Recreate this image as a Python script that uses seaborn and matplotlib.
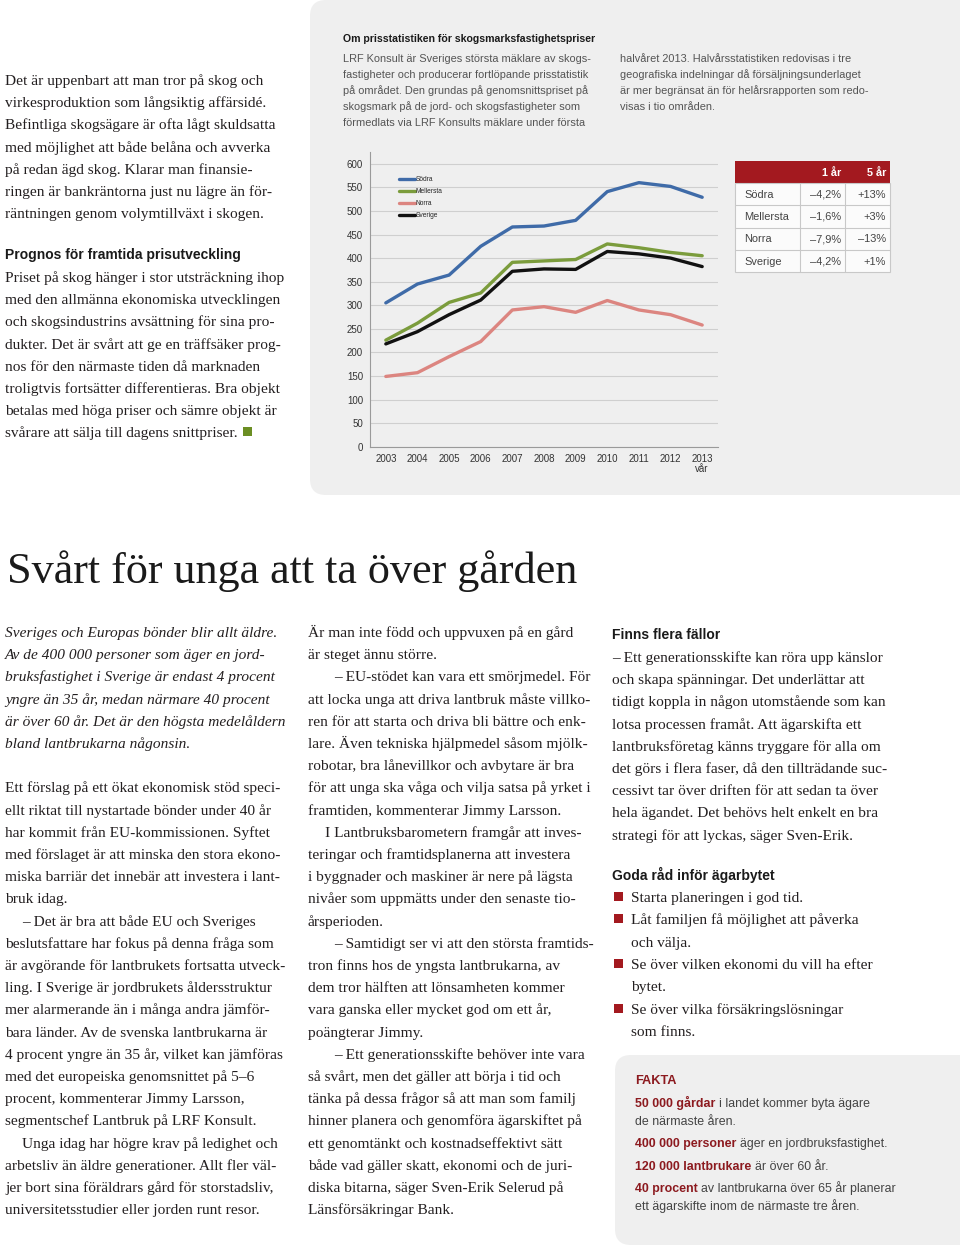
import matplotlib
matplotlib.use('Agg')
import matplotlib.pyplot as plt
from matplotlib.patches import FancyBboxPatch, Rectangle
import pandas as pd
import seaborn as sns

# Chart data: price per hectare of forest land
years = ['2003', '2004', '2005', '2006', '2007', '2008', '2009', '2010', '2011', '2012', '2013\nvår']
sodra = [305, 345, 364, 425, 466, 468, 480, 541, 560, 552, 529]
mellersta = [226, 262, 306, 326, 391, 394, 397, 430, 422, 412, 405]
norra = [149, 157, 191, 223, 290, 297, 285, 310, 290, 280, 258]
sverige = [218, 244, 280, 311, 372, 377, 376, 414, 409, 400, 382]
regions = ['Södra', 'Mellersta', 'Norra', 'Sverige']
region_colors = ['#3f6ba8', '#7b9c3c', '#dc8580', '#111111']
y_ticks = list(range(0, 601, 50))

# Change table
table_regions = ['Södra', 'Mellersta', 'Norra', 'Sverige']
change_1yr = ['–4,2%', '–1,6%', '–7,9%', '–4,2%']
change_5yr = ['+13%', '+3%', '–13%', '+1%']
table_header = ['', '1 år', '5 år']

SERIF = 'Liberation Serif'
SANS = 'Liberation Sans'
INK = '#231f20'
RED = '#a3191f'

sns.set_theme(style='white')
plt.rcParams['font.family'] = [SANS, 'DejaVu Sans']

fig = plt.figure(figsize=(9.6, 12.49), dpi=100)
fig.patch.set_facecolor('white')

# page layer in pixel coordinates (y goes down)
page = fig.add_axes([0, 0, 1, 1])
page.set_xlim(0, 960)
page.set_ylim(1249, 0)
page.axis('off')
renderer = fig.canvas.get_renderer()


def put(x, y, s, size=11.1, family=SERIF, color=INK, **kw):
    return page.text(x, y, s, fontsize=size, family=family, color=color,
                     va='baseline', **kw)


def width_of(t):
    return t.get_window_extent(renderer).width


# grey panels
page.add_patch(FancyBboxPatch((310, 0), 700, 495, boxstyle='round,pad=0,rounding_size=16',
                              fc='#efefef', ec='none', zorder=0))
page.add_patch(FancyBboxPatch((615, 1055), 400, 190, boxstyle='round,pad=0,rounding_size=16',
                              fc='#efefef', ec='none', zorder=0))

# top-left text block
block1 = ["Det är uppenbart att man tror på skog och",
          "virkesproduktion som långsiktig affärsidé.",
          "Befintliga skogsägare är ofta lågt skuldsatta",
          "med möjlighet att både belåna och avverka",
          "på redan ägd skog. Klarar man finansie-",
          "ringen är bankräntorna just nu lägre än för-",
          "räntningen genom volymtillväxt i skogen."]
for i, line in enumerate(block1):
    put(5, 85 + 22.2 * i, line)

put(5, 259, "Prognos för framtida prisutveckling", size=10.0, family=SANS,
    color='#1a1a1a', fontweight='bold')
block2 = ["Priset på skog hänger i stor utsträckning ihop",
          "med den allmänna ekonomiska utvecklingen",
          "och skogsindustrins avsättning för sina pro-",
          "dukter. Det är svårt att ge en träffsäker prog-",
          "nos för den närmaste tiden då marknaden",
          "troligtvis fortsätter differentieras. Bra objekt",
          "betalas med höga priser och sämre objekt är",
          "svårare att sälja till dagens snittpriser."]
for i, line in enumerate(block2):
    t = put(5, 282 + 22.2 * i, line)
end_x = 5 + width_of(t)
page.add_patch(Rectangle((end_x + 5, 427), 9, 9, fc='#6b8e23', ec='none'))

# panel texts
put(343, 42, "Om prisstatistiken för skogsmarksfastighetspriser", size=7.6,
    family=SANS, color='#1a1a1a', fontweight='bold')
panel_col1 = ["LRF Konsult är Sveriges största mäklare av skogs-",
              "fastigheter och producerar fortlöpande prisstatistik",
              "på området. Den grundas på genomsnittspriset på",
              "skogsmark på de jord- och skogsfastigheter som",
              "förmedlats via LRF Konsults mäklare under första"]
panel_col2 = ["halvåret 2013. Halvårsstatistiken redovisas i tre",
              "geografiska indelningar då försäljningsunderlaget",
              "är mer begränsat än för helårsrapporten som redo-",
              "visas i tio områden."]
for i, line in enumerate(panel_col1):
    put(343, 62 + 16 * i, line, size=7.9, family=SANS, color='#555555')
for i, line in enumerate(panel_col2):
    put(620, 62 + 16 * i, line, size=7.9, family=SANS, color='#555555')

# line chart
ax = fig.add_axes([370 / 960, 1 - 446.7 / 1249, 348 / 960, 294.7 / 1249])
ax.patch.set_alpha(0)
df = pd.DataFrame({'pos': list(range(len(years))) * 4,
                   'price': sodra + mellersta + norra + sverige,
                   'region': sum([[r] * len(years) for r in regions], [])})
sns.lineplot(data=df, x='pos', y='price', hue='region', hue_order=regions,
             palette=region_colors, linewidth=2.4, ax=ax, legend=True)
for ln in ax.lines:
    ln.set_solid_joinstyle('round')
    ln.set_solid_capstyle('round')
ax.set_xlim(-0.5, 10.5)
ax.set_ylim(0, 625)
ax.set_yticks(y_ticks)
ax.set_xticks(range(len(years)))
ax.set_xticklabels(years, fontsize=7, color='#333333', linespacing=1.0)
ax.set_yticklabels([str(v) for v in y_ticks], fontsize=7, color='#333333')
ax.tick_params(axis='both', length=0, pad=5)
ax.set_xlabel('')
ax.set_ylabel('')
ax.grid(axis='y', color='#cfcfcf', linewidth=0.8)
ax.set_axisbelow(True)
for side in ['top', 'right']:
    ax.spines[side].set_visible(False)
for side in ['left', 'bottom']:
    ax.spines[side].set_color('#9a9a9a')
    ax.spines[side].set_linewidth(0.8)
leg = ax.legend(loc='upper left', bbox_to_anchor=(0.075, 0.93), frameon=False,
                fontsize=4.8, handlelength=2.3, handletextpad=0.1,
                labelspacing=0.75, borderpad=0)
for h in leg.get_lines():
    h.set_linewidth(2.4)

# change table
col_edges = [735, 800, 845, 890]
row_edges = [161, 183, 205, 227.5, 250, 272]
page.add_patch(Rectangle((735, 161), 155, 22, fc=RED, ec='none'))
page.add_patch(Rectangle((735, 183), 155, 89, fc='#fbfbfb', ec='#c8c8c8', lw=0.8))
for yy in row_edges[2:-1]:
    page.plot([735, 890], [yy, yy], color='#c8c8c8', lw=0.8)
for xx in col_edges[1:-1]:
    page.plot([xx, xx], [183, 272], color='#c8c8c8', lw=0.8)
put(841, 175.5, table_header[1], size=7.8, family=SANS, color='white',
    fontweight='bold', ha='right')
put(886, 175.5, table_header[2], size=7.8, family=SANS, color='white',
    fontweight='bold', ha='right')
for i, name in enumerate(table_regions):
    yb = (row_edges[i + 1] + row_edges[i + 2]) / 2 + 3.5
    put(744, yb, name, size=7.9, family=SANS, color='#444444')
    put(841, yb, change_1yr[i], size=7.9, family=SANS, color='#444444', ha='right')
    put(886, yb, change_5yr[i], size=7.9, family=SANS, color='#444444', ha='right')

# headline
put(7, 583, "Svårt för unga att ta över gården", size=31.8, color='#1a1a1a')

# column 1
col1_lede = ["Sveriges och Europas bönder blir allt äldre.",
             "Av de 400 000 personer som äger en jord-",
             "bruksfastighet i Sverige är endast 4 procent",
             "yngre än 35 år, medan närmare 40 procent",
             "är över 60 år. Det är den högsta medelåldern",
             "bland lantbrukarna någonsin."]
col1_body = ["Ett förslag på ett ökat ekonomisk stöd speci-",
             "ellt riktat till nystartade bönder under 40 år",
             "har kommit från EU-kommissionen. Syftet",
             "med förslaget är att minska den stora ekono-",
             "miska barriär det innebär att investera i lant-",
             "bruk idag.",
             ">– Det är bra att både EU och Sveriges",
             "beslutsfattare har fokus på denna fråga som",
             "är avgörande för lantbrukets fortsatta utveck-",
             "ling. I Sverige är jordbrukets åldersstruktur",
             "mer alarmerande än i många andra jämför-",
             "bara länder. Av de svenska lantbrukarna är",
             "4 procent yngre än 35 år, vilket kan jämföras",
             "med det europeiska genomsnittet på 5–6",
             "procent, kommenterar Jimmy Larsson,",
             "segmentschef Lantbruk på LRF Konsult.",
             ">Unga idag har högre krav på ledighet och",
             "arbetsliv än äldre generationer. Allt fler väl-",
             "jer bort sina föräldrars gård för storstadsliv,",
             "universitetsstudier eller jorden runt resor."]
col2_body = ["Är man inte född och uppvuxen på en gård",
             "är steget ännu större.",
             ">>– EU-stödet kan vara ett smörjmedel. För",
             "att locka unga att driva lantbruk måste villko-",
             "ren för att starta och driva bli bättre och enk-",
             "lare. Även tekniska hjälpmedel såsom mjölk-",
             "robotar, bra lånevillkor och avbytare är bra",
             "för att unga ska våga och vilja satsa på yrket i",
             "framtiden, kommenterar Jimmy Larsson.",
             ">I Lantbruksbarometern framgår att inves-",
             "teringar och framtidsplanerna att investera",
             "i byggnader och maskiner är nere på lägsta",
             "nivåer som uppmätts under den senaste tio-",
             "årsperioden.",
             ">>– Samtidigt ser vi att den största framtids-",
             "tron finns hos de yngsta lantbrukarna, av",
             "dem tror hälften att lönsamheten kommer",
             "vara ganska eller mycket god om ett år,",
             "poängterar Jimmy.",
             ">>– Ett generationsskifte behöver inte vara",
             "så svårt, men det gäller att börja i tid och",
             "tänka på dessa frågor så att man som familj",
             "hinner planera och genomföra ägarskiftet på",
             "ett genomtänkt och kostnadseffektivt sätt",
             "både vad gäller skatt, ekonomi och de juri-",
             "diska bitarna, säger Sven-Erik Selerud på",
             "Länsförsäkringar Bank."]


def body_line(x0, y, line):
    indent = 0
    if line.startswith('>>'):
        indent, line = 26, line[2:]
    elif line.startswith('>'):
        indent, line = 17, line[1:]
    return put(x0 + indent, y, line)


for i, line in enumerate(col1_lede):
    put(5, 637 + 22.2 * i, line, fontstyle='italic')
for i, line in enumerate(col1_body):
    body_line(5, 637 + 22.2 * (i + 7), line)
for i, line in enumerate(col2_body):
    body_line(308, 637 + 22.2 * i, line)

# column 3
put(612, 639, "Finns flera fällor", size=10.0, family=SANS, color='#1a1a1a',
    fontweight='bold')
col3_body = ["– Ett generationsskifte kan röra upp känslor",
             "och skapa spänningar. Det underlättar att",
             "tidigt koppla in någon utomstående som kan",
             "lotsa processen framåt. Att ägarskifta ett",
             "lantbruksföretag känns tryggare för alla om",
             "det görs i flera faser, då den tillträdande suc-",
             "cessivt tar över driften för att sedan ta över",
             "hela ägandet. Det behövs helt enkelt en bra",
             "strategi för att lyckas, säger Sven-Erik."]
for i, line in enumerate(col3_body):
    put(612, 662 + 22.2 * i, line)
put(612, 880, "Goda råd inför ägarbytet", size=10.0, family=SANS, color='#1a1a1a',
    fontweight='bold')
tips = [["Starta planeringen i god tid."],
        ["Låt familjen få möjlighet att påverka", "och välja."],
        ["Se över vilken ekonomi du vill ha efter", "bytet."],
        ["Se över vilka försäkringslösningar", "som finns."]]
k = 0
for tip in tips:
    for j, line in enumerate(tip):
        yb = 902 + 22.3 * k
        if j == 0:
            page.add_patch(Rectangle((614, yb - 10), 9, 9, fc=RED, ec='none'))
        put(631, yb, line)
        k += 1

# FAKTA box
put(635, 1084.5, "FAKTA", size=9.2, family=SANS, color='#8c1a1f', fontweight='bold')
fakta = [[("50 000 gårdar", True), ("i landet kommer byta ägare", False)],
         [("de närmaste åren.", False)],
         [("400 000 personer", True), ("äger en jordbruksfastighet.", False)],
         [("120 000 lantbrukare", True), ("är över 60 år.", False)],
         [("40 procent", True), ("av lantbrukarna över 65 år planerar", False)],
         [("ett ägarskifte inom de närmaste tre åren.", False)]]
fakta_y = [1107, 1125, 1147.5, 1169.5, 1192, 1210]
for runs, yb in zip(fakta, fakta_y):
    x = 635
    for s, bold in runs:
        t = put(x, yb, s, size=8.9, family=SANS,
                color='#8c1a1f' if bold else '#444444',
                fontweight='bold' if bold else 'normal')
        x += width_of(t) + 3.5

fig.savefig('out.png', dpi=100, facecolor='white')
